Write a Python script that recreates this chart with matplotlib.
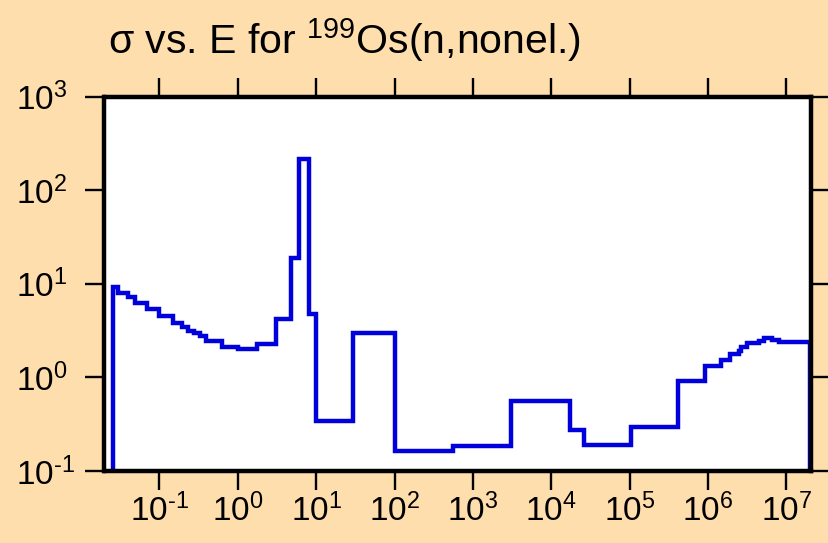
import numpy as np
import matplotlib
matplotlib.use("Agg")
import matplotlib.pyplot as plt
from matplotlib.ticker import FixedLocator, FuncFormatter, NullLocator

plt.rcParams['font.family'] = ['Liberation Sans', 'DejaVu Sans']
plt.rcParams['mathtext.fontset'] = 'custom'
plt.rcParams['mathtext.rm'] = 'Liberation Sans'
plt.rcParams['mathtext.it'] = 'Liberation Sans'
plt.rcParams['mathtext.default'] = 'regular'
plt.rcParams['axes.unicode_minus'] = False

# Energy bin edges (eV) and cross sections (b)
energy_edges = [0.0253, 0.030, 0.040, 0.049, 0.070, 0.1, 0.15, 0.195, 0.23, 0.272,
                0.334, 0.398, 0.632, 1.0, 1.77, 3.03, 4.75, 5.96, 8.04, 10.0,
                29.8, 100, 551, 3055, 17300, 26100, 1.04e5, 4.13e5, 9.27e5, 1.47e6,
                1.90e6, 2.45e6, 2.62e6, 3.11e6, 4.48e6, 5.19e6, 6.64e6, 8.07e6, 2e7]
sigma_values = [9.13, 8.01, 7.19, 6.22, 5.35, 4.50, 3.80, 3.46, 3.16, 2.96,
                2.75, 2.46, 2.13, 2.00, 2.25, 4.22, 18.7, 216, 4.77, 0.340,
                2.95, 0.164, 0.184, 0.556, 0.277, 0.190, 0.295, 0.915, 1.32, 1.54,
                1.78, 1.93, 2.10, 2.35, 2.47, 2.62, 2.53, 2.41]
x_ticks = [1e-1, 1e0, 1e1, 1e2, 1e3, 1e4, 1e5, 1e6, 1e7]
y_ticks = [1e-1, 1e0, 1e1, 1e2, 1e3]
title_text = "σ vs. E for $^{199}$Os(n,nonel.)"


def sci_label(v, pos):
    e = int(round(np.log10(v)))
    s = str(e).replace('-', '\u2010')
    return "10$^{%s}$" % s


bg = '#ffdead'
fig = plt.figure(figsize=(8.29, 5.43), dpi=100, facecolor=bg)
ax = fig.add_axes([104.5/829, 1-471/543, (811-104.5)/829, (471-96.5)/543])
ax.set_facecolor('white')

st = ax.stairs(sigma_values, energy_edges, baseline=0.01, fill=False,
               edgecolor='#0000dd', linewidth=3.2)
st.set_joinstyle('miter')

ax.set_xscale('log')
ax.set_yscale('log')
ax.set_xlim(0.0199, 2.06e7)
ax.set_ylim(0.1, 1000)

fmt = FuncFormatter(sci_label)
ax.xaxis.set_major_locator(FixedLocator(x_ticks))
ax.yaxis.set_major_locator(FixedLocator(y_ticks))
for a in (ax.xaxis, ax.yaxis):
    a.set_minor_locator(NullLocator())
    a.set_major_formatter(fmt)

for s in ax.spines.values():
    s.set_linewidth(3.2)
    s.set_color('black')

ax.tick_params(which='major', direction='out', length=13.7, width=1.7,
               top=True, right=True, labeltop=False, labelright=False,
               labelsize=24, colors='black')
ax.tick_params(axis='x', pad=2.5)
ax.tick_params(axis='y', pad=50)
for lab in ax.get_yticklabels():
    lab.set_horizontalalignment('left')

fig.text(108/829, 1-53.5/543, title_text, fontsize=29.5, va='baseline', ha='left')

fig.savefig('out.png', dpi=100, facecolor=bg)
